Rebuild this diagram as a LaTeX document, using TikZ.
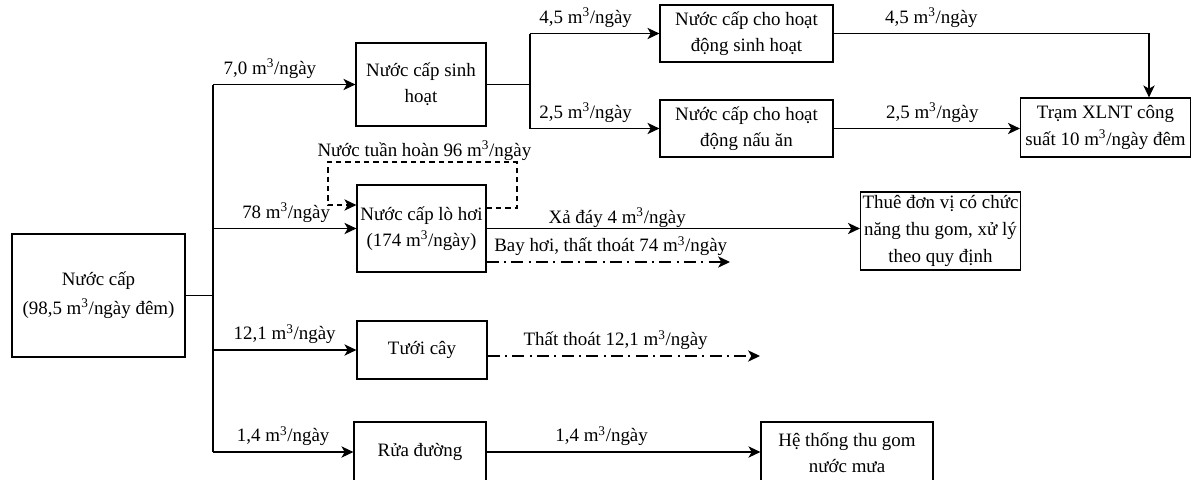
\documentclass[tikz,border=0pt]{standalone}
\usepackage{fontspec}
\setmainfont{Liberation Serif}
\usetikzlibrary{arrows.meta}
\newcommand\cub{m\textsuperscript{3}}
\begin{document}
\begin{tikzpicture}[x=0.75pt,y=-0.75pt,
  every node/.style={font=\fontsize{14.2}{19.5}\selectfont},
  box/.style={draw, line width=0.9pt, align=center, inner sep=0pt},
  bw/.style={minimum width={#1*0.75pt}},
  bh/.style={minimum height={#1*0.75pt}},
  ln/.style={line width=0.9pt},
  arr/.style={ln, -{Stealth[length=9pt,width=8.5pt,inset=2.5pt]}},
  dsh/.style={arr, dash pattern=on 4pt off 3pt},
  dda/.style={arr, dash pattern=on 9pt off 4pt on 1.5pt off 4pt},
  lbl/.style={above=2pt, inner sep=2pt},
  lblc/.style={above=0pt, inner sep=0.6pt}]
\clip (0,0) rectangle (1192,479);
% nodes
\node[box, bw=173, bh=123, font=\fontsize{14.2}{21.5}\selectfont] (src) at (98.5,295.5) {Nước cấp\\(98,5 \cub/ngày đêm)};
\node[box, bw=130, bh=83] (sh) at (421,84.5) {Nước cấp sinh\\hoạt};
\node[box, bw=173, bh=57] (shsh) at (746.5,33.5) {Nước cấp cho hoạt\\động sinh hoạt};
\node[box, bw=173, bh=57] (na) at (746.5,128.5) {Nước cấp cho hoạt\\động nấu ăn};
\node[box, bw=170, bh=59, font=\fontsize{14.2}{20.5}\selectfont] (xlnt) at (1105.5,127.5) {Trạm XLNT công\\suất 10 \cub/ngày đêm};
\node[box, bw=129, bh=87] (lh) at (421.5,228.5) {Nước cấp lò hơi\\(174 \cub/ngày)};
\node[box, bw=160, bh=78, font=\fontsize{14.2}{20.5}\selectfont] (thue) at (940.5,231) {Thuê đơn vị có chức\\năng thu gom, xử lý\\theo quy định};
\node[box, bw=130, bh=58] (tc) at (422,350) {Tưới cây};
\node[box, bw=132, bh=60] (rd) at (420,452) {Rửa đường};
\node[box, bw=172, bh=62] (ht) at (847,453) {Hệ thống thu gom\\nước mưa};
% coordinates
\coordinate (t) at (213,295.5);
\coordinate (j1) at (530,84.5);
\coordinate (c1) at (1149,33.5);
\coordinate (l1) at (517,208);
\coordinate (l2) at (517,162);
\coordinate (l3) at (328,162);
\coordinate (l4) at (328,205);
\coordinate (bhc) at (730,262);
\coordinate (tt) at (760,356);
% trunk
\draw[ln] (src.east) -- (t);
\draw[ln] (t |- sh.west) -- (t |- rd.west);
\draw[arr] (t |- sh.west) -- node[lbl, pos=0.40] {7,0 \cub/ngày} (sh.west);
\draw[arr] (t |- lh.west) -- node[lbl, pos=0.51] {78 \cub/ngày} (lh.west);
\draw[arr] (t |- tc.west) -- node[lbl, pos=0.5] {12,1 \cub/ngày} (tc.west);
\draw[arr] (t |- rd.west) -- node[lbl, pos=0.5] {1,4 \cub/ngày} (rd.west);
% sinh hoat
\draw[ln] (sh.east) -- (j1);
\draw[ln] (j1 |- shsh.west) -- (j1 |- na.west);
\draw[arr] (j1 |- shsh.west) -- node[lbl, pos=0.43] {4,5 \cub/ngày} (shsh.west);
\draw[arr] (j1 |- na.west) -- node[lbl, pos=0.43] {2,5 \cub/ngày} (na.west);
\draw[arr] (shsh.east) -- node[lbl, pos=0.31] {4,5 \cub/ngày} (c1) -- (c1 |- xlnt.north);
\draw[arr] (na.east) -- node[lbl, pos=0.53] {2,5 \cub/ngày} (na.east -| xlnt.west);
% lo hoi
\draw[dsh] (lh.east |- l1) -- (l1) -- (l2) -- node[lblc, pos=0.49] {Nước tuần hoàn 96 \cub/ngày} (l3) -- (l4) -- (l4 -| lh.west);
\draw[arr] (lh.east) -- node[lblc, pos=0.35] {Xả đáy 4 \cub/ngày} (lh.east -| thue.west);
\draw[dda] (bhc -| lh.east) -- node[lbl, pos=0.51] {Bay hơi, thất thoát 74 \cub/ngày} (bhc);
% tuoi cay
\draw[dda] (tc.east |- tt) -- node[lbl, pos=0.47] {Thất thoát 12,1 \cub/ngày} (tt);
% rua duong
\draw[arr] (rd.east) -- node[lbl, pos=0.42] {1,4 \cub/ngày} (rd.east -| ht.west);
\end{tikzpicture}
\end{document}
